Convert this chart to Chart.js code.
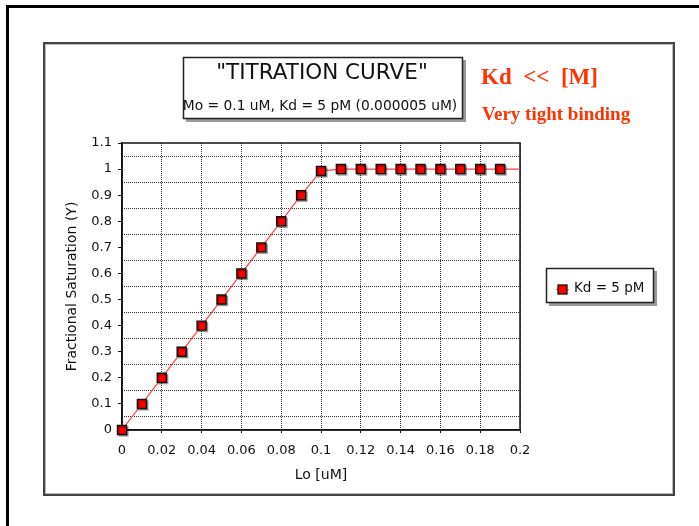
<!DOCTYPE html>
<html>
<head>
<meta charset="utf-8">
<title>Titration curve</title>
<script src="https://cdn.jsdelivr.net/npm/chart.js@4/dist/chart.umd.min.js"></script>
<style>
  html, body { margin: 0; padding: 0; background: #fff; }
  canvas { display: block; }
</style>
</head>
<body>
<canvas id="chart" width="699" height="526"></canvas>
<script>
// data
const loValues = [0, 0.01, 0.02, 0.03, 0.04, 0.05, 0.06, 0.07, 0.08, 0.09, 0.1,
  0.11, 0.12, 0.13, 0.14, 0.15, 0.16, 0.17, 0.18, 0.19, 0.2];
const saturation = [0, 0.1, 0.2, 0.3, 0.4, 0.5, 0.6, 0.7, 0.8, 0.9, 0.993,
  1, 1, 1, 1, 1, 1, 1, 1, 1, 1];
// last point (0.2) is only where the line ends, no marker there
const markerCount = 20;

const xTicks = [0, 0.02, 0.04, 0.06, 0.08, 0.1, 0.12, 0.14, 0.16, 0.18, 0.2];
const xTickLabels = ["0", "0.02", "0.04", "0.06", "0.08", "0.1", "0.12", "0.14", "0.16", "0.18", "0.2"];
const yTicks = [0, 0.1, 0.2, 0.3, 0.4, 0.5, 0.6, 0.7, 0.8, 0.9, 1, 1.1];
const yTickLabels = ["0", "0.1", "0.2", "0.3", "0.4", "0.5", "0.6", "0.7", "0.8", "0.9", "1", "1.1"];
const yGridLines = [0.05, 0.15, 0.25, 0.35, 0.45, 0.55, 0.65, 0.75, 0.85, 0.95, 1.05];

const seriesLabel = "Kd = 5 pM";
const titleText = "\"TITRATION CURVE\"";
const subtitleText = "Mo = 0.1 uM, Kd = 5 pM (0.000005 uM)";
const noteText = "Kd  <<  [M]";
const note2Text = "Very tight binding";

const points = loValues.map((x, i) => ({ x: x, y: saturation[i] }));

Chart.defaults.font.family = "'DejaVu Sans', sans-serif";
Chart.defaults.color = "#111";

const decorations = {
  id: "decorations",
  beforeDraw(chart) {
    const ctx = chart.ctx;
    ctx.save();
    // outer black frame (top + left only)
    ctx.fillStyle = "#000";
    ctx.fillRect(6, 5, 699 - 6, 3);
    ctx.fillRect(6, 5, 3, 526 - 5);
    // inner gray box
    ctx.strokeStyle = "#444";
    ctx.lineWidth = 2;
    ctx.strokeRect(44, 43, 630, 452);
    ctx.strokeStyle = "#bbb";
    ctx.lineWidth = 1;
    ctx.strokeRect(45.5, 44.5, 627, 449);

    // title box
    ctx.fillStyle = "#999";
    ctx.fillRect(186, 60, 280, 62);
    ctx.fillStyle = "#fff";
    ctx.fillRect(183, 57, 280, 62);
    ctx.strokeStyle = "#222";
    ctx.lineWidth = 1.5;
    ctx.strokeRect(183.5, 57.5, 279, 61);
    ctx.fillStyle = "#111";
    ctx.textAlign = "center";
    ctx.textBaseline = "middle";
    ctx.font = "21.5px 'DejaVu Sans', sans-serif";
    ctx.fillText(titleText, 322, 73);
    ctx.font = "13.8px 'DejaVu Sans', sans-serif";
    ctx.fillText(subtitleText, 320, 106);

    // red notes
    ctx.fillStyle = "#ff3300";
    ctx.textAlign = "left";
    ctx.textBaseline = "alphabetic";
    ctx.font = "bold 23px 'Liberation Serif', 'Times New Roman', serif";
    ctx.fillText(noteText, 481, 84);
    ctx.font = "bold 19px 'Liberation Serif', 'Times New Roman', serif";
    ctx.fillText(note2Text, 482, 120);

    // legend box
    ctx.fillStyle = "#999";
    ctx.fillRect(549, 271, 108, 35);
    ctx.fillStyle = "#fff";
    ctx.fillRect(546, 268, 108, 35);
    ctx.strokeStyle = "#222";
    ctx.lineWidth = 1.5;
    ctx.strokeRect(546.5, 268.5, 107, 34);
    ctx.strokeStyle = "#ff4040";
    ctx.lineWidth = 1;
    ctx.beginPath();
    ctx.moveTo(556, 289.5);
    ctx.lineTo(569, 289.5);
    ctx.stroke();
    ctx.fillStyle = "#f00";
    ctx.fillRect(558, 285, 9, 9);
    ctx.strokeStyle = "#111";
    ctx.lineWidth = 1.3;
    ctx.strokeRect(558, 285, 9, 9);
    ctx.fillStyle = "#111";
    ctx.textBaseline = "middle";
    ctx.font = "13.5px 'DejaVu Sans', sans-serif";
    ctx.fillText(seriesLabel, 574, 288);
    ctx.restore();
  },
  beforeDatasetsDraw(chart) {
    const a = chart.chartArea;
    const ctx = chart.ctx;
    ctx.save();
    ctx.strokeStyle = "#111";
    ctx.lineWidth = 1.5;
    ctx.strokeRect(a.left, a.top, a.right - a.left, a.bottom - a.top);
    ctx.restore();
  },
  beforeDatasetDraw(chart, args) {
    if (args.index === 1) {
      chart.ctx.save();
      chart.ctx.shadowColor = "rgba(0,0,0,0.3)";
      chart.ctx.shadowOffsetX = 1.5;
      chart.ctx.shadowOffsetY = 1.5;
      chart.ctx.shadowBlur = 0;
    }
  },
  afterDatasetDraw(chart, args) {
    if (args.index === 1) chart.ctx.restore();
  }
};

new Chart(document.getElementById("chart"), {
  type: "scatter",
  data: {
    datasets: [
      {
        label: seriesLabel,
        data: points,
        order: 2,
        showLine: true,
        borderColor: "#ff4040",
        borderWidth: 1.2,
        pointRadius: 0,
        fill: false,
        clip: false,
      },
      {
        label: seriesLabel,
        data: points.slice(0, markerCount),
        order: 1,
        showLine: false,
        pointStyle: "rect",
        pointRadius: 6.4,
        pointHoverRadius: 6.4,
        pointBackgroundColor: "#ff0000",
        pointBorderColor: "#111",
        pointBorderWidth: 1.4,
        clip: false,
      },
    ],
  },
  options: {
    responsive: false,
    devicePixelRatio: 1,
    animation: false,
    layout: {
      padding: { left: 0, top: 143, right: 179, bottom: 0 },
    },
    plugins: {
      legend: { display: false },
      tooltip: { enabled: false },
    },
    scales: {
      x: {
        type: "linear",
        position: "bottom",
        min: 0,
        max: 0.2,
        afterBuildTicks: (scale) => {
          scale.ticks = xTicks.map((v) => ({ value: v }));
        },
        afterFit: (scale) => {
          scale.height = 96;
        },
        ticks: {
          autoSkip: false,
          maxRotation: 0,
          padding: 10,
          font: { size: 13 },
          callback: (value, index) => xTickLabels[index],
        },
        grid: {
          color: "#333",
          lineWidth: 1,
          tickLength: 3,
          tickColor: "#111",
          tickBorderDash: [],
        },
        border: { display: true, color: "#111", width: 1.5, dash: [1, 1] },
        title: {
          display: true,
          text: "Lo [uM]",
          font: { size: 14 },
          padding: { top: 0, bottom: 42 },
        },
      },
      y: {
        type: "linear",
        position: "left",
        weight: 1,
        min: 0,
        max: 1.1,
        afterBuildTicks: (scale) => {
          scale.ticks = yTicks.map((v) => ({ value: v }));
        },
        afterFit: (scale) => {
          scale.width = 122;
        },
        ticks: {
          autoSkip: false,
          padding: 6,
          font: { size: 13 },
          callback: (value, index) => yTickLabels[index],
        },
        grid: {
          drawOnChartArea: false,
          tickLength: 4,
          tickColor: "#111",
          tickBorderDash: [],
        },
        border: { display: true, color: "#111", width: 1.5 },
        title: {
          display: true,
          text: "Fractional Saturation (Y)",
          font: { size: 14 },
          padding: { top: 64, bottom: 0 },
        },
      },
      yGrid: {
        type: "linear",
        position: "left",
        weight: 0,
        min: 0,
        max: 1.1,
        afterBuildTicks: (scale) => {
          scale.ticks = yGridLines.map((v) => ({ value: v }));
        },
        afterFit: (scale) => {
          scale.width = 0;
        },
        ticks: { display: false },
        grid: {
          drawTicks: false,
          color: "#333",
          lineWidth: 1,
        },
        border: { display: false, dash: [1, 1] },
      },
    },
  },
  plugins: [decorations],
});
</script>
</body>
</html>
